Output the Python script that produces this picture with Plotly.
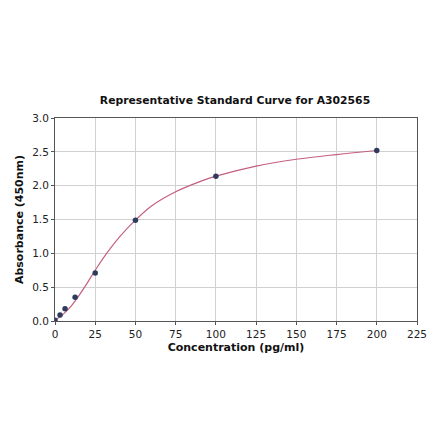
import plotly.graph_objects as go

# ── DATA ─────────────────────────────────────────────────────────────────
CONC = [0, 3.125, 6.25, 12.5, 25, 50, 100, 200]
ABS = [0.01, 0.09, 0.18, 0.35, 0.71, 1.49, 2.14, 2.52]

# fitted curve
CURVE_X = [0, 3, 6, 10, 15, 20, 25, 30, 40, 50, 60, 75, 90, 100, 125, 150, 175, 200]
CURVE_Y = [0.02, 0.06, 0.12, 0.22, 0.38, 0.56, 0.75, 0.93, 1.24, 1.49, 1.70,
           1.91, 2.06, 2.14, 2.29, 2.39, 2.46, 2.52]

X_TICKS = [0, 25, 50, 75, 100, 125, 150, 175, 200, 225]
Y_TICKS = [0.0, 0.5, 1.0, 1.5, 2.0, 2.5, 3.0]

FONT = "DejaVu Sans"

fig = go.Figure()
fig.add_trace(go.Scatter(
    x=CURVE_X, y=CURVE_Y, mode="lines",
    line=dict(color="#c4607e", width=1.2, shape="spline"),
    hoverinfo="skip", showlegend=False,
))
fig.add_trace(go.Scatter(
    x=CONC, y=ABS, mode="markers",
    marker=dict(color="#2f3b5e", size=5.5),
    showlegend=False,
))

axis_common = dict(
    showline=True, linecolor="#555555", linewidth=1, mirror=True,
    showgrid=True, gridcolor="#d0d0d0", gridwidth=1,
    ticks="outside", ticklen=3, tickcolor="#555555",
    tickfont=dict(family=FONT, size=10.5, color="#222222"),
    zeroline=False, automargin=False,
)

fig.update_xaxes(
    range=[0, 225], tickvals=X_TICKS,
    title=dict(text="<b>Concentration (pg/ml)</b>",
               font=dict(family=FONT, size=11, color="#111111"), standoff=4),
    **axis_common,
)
fig.update_yaxes(
    range=[0, 3.0], tickvals=Y_TICKS, tickformat=".1f",
    title=dict(text="<b>Absorbance (450nm)</b>",
               font=dict(family=FONT, size=11, color="#111111"), standoff=6),
    **axis_common,
)

# page body adds an 8px offset, margins compensate
fig.update_layout(
    width=440, height=441,
    margin=dict(l=47, r=31, t=110, b=128),
    plot_bgcolor="white", paper_bgcolor="white",
    title=dict(text="<b>Representative Standard Curve for A302565</b>",
               font=dict(family=FONT, size=10.8, color="#111111"),
               x=(235 - 8) / 440, xanchor="center", y=1 - 92 / 441, yanchor="middle"),
)

fig.write_html("out.html")
